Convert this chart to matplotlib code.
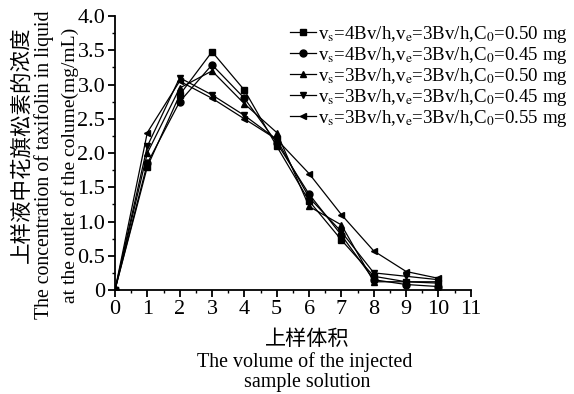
import matplotlib.pyplot as plt
from matplotlib.ticker import MultipleLocator, FixedLocator

plt.rcParams['font.family'] = ['Liberation Serif', 'Noto Sans CJK SC']
plt.rcParams['mathtext.fontset'] = 'stix'

x = [0, 1, 2, 3, 4, 5, 6, 7, 8, 9, 10]
s1 = [0, 1.80, 2.85, 3.48, 2.92, 2.10, 1.30, 0.73, 0.20, 0.12, 0.10]
s2 = [0, 1.85, 2.75, 3.29, 2.80, 2.15, 1.40, 0.80, 0.15, 0.08, 0.05]
s3 = [0, 2.00, 2.95, 3.20, 2.72, 2.30, 1.22, 0.95, 0.12, 0.12, 0.12]
s4 = [0, 2.10, 3.10, 2.85, 2.55, 2.20, 1.35, 0.85, 0.25, 0.20, 0.15]
s5 = [0, 2.30, 3.05, 2.80, 2.50, 2.20, 1.70, 1.10, 0.57, 0.27, 0.17]
labels = [
    r'v$_\mathrm{s}$=4Bv/h,v$_\mathrm{e}$=3Bv/h,C$_\mathrm{0}$=0.50 mg',
    r'v$_\mathrm{s}$=4Bv/h,v$_\mathrm{e}$=3Bv/h,C$_\mathrm{0}$=0.45 mg',
    r'v$_\mathrm{s}$=3Bv/h,v$_\mathrm{e}$=3Bv/h,C$_\mathrm{0}$=0.50 mg',
    r'v$_\mathrm{s}$=3Bv/h,v$_\mathrm{e}$=3Bv/h,C$_\mathrm{0}$=0.45 mg',
    r'v$_\mathrm{s}$=3Bv/h,v$_\mathrm{e}$=3Bv/h,C$_\mathrm{0}$=0.55 mg',
]
markers = ['s', 'o', '^', 'v', '<']

fig = plt.figure(figsize=(5.74, 3.94), dpi=100)
ax = fig.add_axes([0.2003, 0.264, 0.620, 0.695])

for ys, m, lab in zip([s1, s2, s3, s4, s5], markers, labels):
    ax.plot(x, ys, color='black', lw=0.9, marker=m, markersize=5, label=lab)

ax.set_xlim(0, 11)
ax.set_ylim(0, 4.0)
ax.xaxis.set_major_locator(MultipleLocator(1))
ax.xaxis.set_minor_locator(MultipleLocator(0.5))
ax.yaxis.set_major_locator(FixedLocator([0, 0.5, 1.0, 1.5, 2.0, 2.5, 3.0, 3.5, 4.0]))
ax.yaxis.set_minor_locator(MultipleLocator(0.25))
ax.set_yticklabels(['0', '0.5', '1.0', '1.5', '2.0', '2.5', '3.0', '3.5', '4.0'])
ax.spines['top'].set_visible(False)
ax.spines['right'].set_visible(False)
ax.spines['left'].set_linewidth(1.3)
ax.spines['bottom'].set_linewidth(1.3)
ax.tick_params(which='major', direction='out', length=5, width=1.3, labelsize=16, pad=2)
ax.tick_params(which='minor', direction='out', length=2.5, width=1)

leg = ax.legend(loc='upper left', bbox_to_anchor=(0.47, 1.0), frameon=False,
                fontsize=13.6, handlelength=1.4, handletextpad=0.1,
                labelspacing=0.0, borderaxespad=0)

fig.text(0.038, 0.632, '上样液中花旗松素的浓度', rotation=90, ha='center', va='center', fontsize=15.5)
fig.text(0.0767, 0.581, 'The concentration of taxifolin in liquid', rotation=90,
         ha='center', va='center', fontsize=14.2)
fig.text(0.122, 0.579, 'at the outlet of the colume(mg/mL)', rotation=90,
         ha='center', va='center', fontsize=14)

fig.text(0.535, 0.137, '上样体积', ha='center', va='center', fontsize=15.2)
fig.text(0.53, 0.081, 'The volume of the injected', ha='center', va='center', fontsize=14.4)
fig.text(0.535, 0.028, 'sample solution', ha='center', va='center', fontsize=14.4)

fig.savefig('out.png', dpi=100)
